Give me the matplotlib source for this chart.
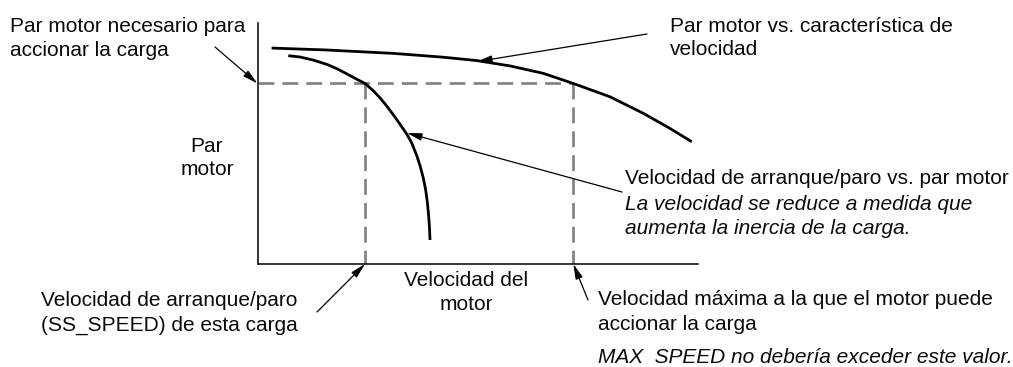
import matplotlib
matplotlib.use("Agg")
import matplotlib.pyplot as plt

W, H = 1013, 367
plt.rcParams['font.family'] = ['Liberation Sans', 'DejaVu Sans']

# ---- data (speed %, torque %) ----
torque_speed_x = [3.2, 15.7, 30.8, 42.2, 49.8, 57.3, 64.9, 71.7, 80.0, 87.6, 93.6, 98.6]
torque_speed_y = [89.6, 88.8, 87.4, 85.8, 84.4, 82.2, 79.1, 74.9, 69.4, 62.5, 56.3, 50.7]

ss_x = [6.99, 9.65, 12.67, 15.71, 17.98, 20.25, 22.52, 24.41, 26.29, 27.81, 29.33,
        30.83, 32.35, 33.87, 35.01, 36.14, 36.89, 37.64, 38.18, 38.55, 38.86, 39.05, 39.16]
ss_y = [86.43, 85.89, 84.61, 82.86, 81.08, 78.92, 76.68, 74.9, 71.87, 68.96, 65.56,
        61.91, 58.01, 53.94, 50.21, 45.02, 40.87, 35.68, 30.71, 25.73, 19.92, 14.94, 9.96]

load_torque = 74.9
ss_speed = 24.41
max_speed = 71.7

fig = plt.figure(figsize=(W / 100, H / 100), dpi=100)
fig.patch.set_facecolor('white')

# axes placed in pixel geometry
ax_l, ax_r, ax_top, ax_bot = 257.5, 698.0, 23.0, 264.0
ax = fig.add_axes([ax_l / W, (H - ax_bot) / H, (ax_r - ax_l) / W, (ax_bot - ax_top) / H])
ax.set_xlim(0, 100)
ax.set_ylim(0, 100)
for s in ['top', 'right']:
    ax.spines[s].set_visible(False)
for s in ['left', 'bottom']:
    ax.spines[s].set_linewidth(1.1)
    ax.spines[s].set_color('black')
ax.set_xticks([])
ax.set_yticks([])
ax.patch.set_alpha(0)

dash = (0, (5.7, 2.9))
gray = '#858585'
ax.plot([0, max_speed], [load_torque, load_torque], color=gray, lw=2.0, linestyle=dash, zorder=1)
ax.plot([ss_speed, ss_speed], [load_torque, 0], color=gray, lw=2.0, linestyle=dash, zorder=1)
ax.plot([max_speed, max_speed], [load_torque, 0], color=gray, lw=2.0, linestyle=dash, zorder=1)

ax.plot(torque_speed_x, torque_speed_y, color='black', lw=2.0, solid_capstyle='butt',
        solid_joinstyle='round', zorder=3)
ax.plot(ss_x, ss_y, color='black', lw=2.0, solid_capstyle='butt',
        solid_joinstyle='round', zorder=3)


def fpx(x, y):
    return (x / W, 1 - y / H)


FS = 15
texts = [
    ("Par motor necesario para", 10, 31.5, 'left', 'normal'),
    ("accionar la carga", 10, 56, 'left', 'normal'),
    ("Par motor vs. característica de", 670, 31.5, 'left', 'normal'),
    ("velocidad", 670, 55, 'left', 'normal'),
    ("Par", 207, 151.5, 'center', 'normal'),
    ("motor", 207, 175, 'center', 'normal'),
    ("Velocidad de arranque/paro vs. par motor", 625, 184, 'left', 'normal'),
    ("La velocidad se reduce a medida que", 625, 210, 'left', 'italic'),
    ("aumenta la inercia de la carga.", 625, 234, 'left', 'italic'),
    ("Velocidad del", 466, 286.5, 'center', 'normal'),
    ("motor", 466, 310, 'center', 'normal'),
    ("Velocidad de arranque/paro", 41, 306.5, 'left', 'normal'),
    ("(SS_SPEED) de esta carga", 41, 330.5, 'left', 'normal'),
    ("Velocidad máxima a la que el motor puede", 598, 305, 'left', 'normal'),
    ("accionar la carga", 598, 330, 'left', 'normal'),
    ("MAX  SPEED no debería exceder este valor.", 598, 363, 'left', 'italic'),
]
for t, x, y, ha, st in texts:
    fx, fy = fpx(x, y)
    fig.text(fx, fy, t, ha=ha, va='baseline', fontsize=FS, style=st, color='#0a0a0a')

arrows = [
    ((0, load_torque), (215, 47)),
    ((49.8, 84.0), (647, 34)),
    ((33.9, 54.4), (622, 192)),
    ((ss_speed, 0), (317, 312)),
    ((max_speed, 0), (588, 300)),
]
for tip, tail in arrows:
    ax.annotate('', xy=tip, xycoords='data',
                xytext=(tail[0], H - tail[1]), textcoords='figure pixels',
                arrowprops=dict(arrowstyle='-|>,head_length=0.9,head_width=0.22',
                                lw=0.9, color='black', shrinkA=0, shrinkB=0,
                                mutation_scale=10),
                annotation_clip=False, zorder=5)

fig.savefig('out.png', dpi=100, facecolor='white')
